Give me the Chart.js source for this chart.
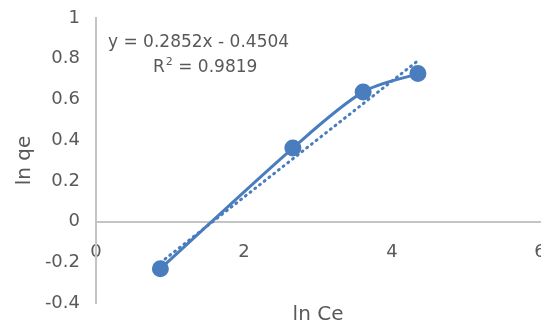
<!DOCTYPE html>
<html>
<head>
<meta charset="utf-8">
<script src="https://cdn.jsdelivr.net/npm/chart.js@4/dist/chart.umd.min.js"></script>
<style>
  html, body { margin: 0; padding: 0; background: #fff; }
  #wrap { width: 541px; height: 328px; }
</style>
</head>
<body>
<div id="wrap"><canvas id="chart"></canvas></div>
<script>
// data
const lnCe = [0.87, 2.66, 3.61, 4.35];
const lnQe = [-0.232, 0.361, 0.637, 0.727];
const trendX = [0.87, 4.35];
const trendY = [-0.202, 0.790];
const yTicks = [-0.4, -0.2, 0, 0.2, 0.4, 0.6, 0.8, 1];
const xTicks = [0, 2, 4, 6];
const equation = 'y = 0.2852x - 0.4504';
const rSquared = '0.9819';

const blue = '#4a7dbd';
const textColor = '#595959';
const axisColor = '#c4c4c4';
const font = "'DejaVu Sans', 'Open Sans', sans-serif";

const equationLabel = {
  id: 'equationLabel',
  afterDraw(chart) {
    const ctx = chart.ctx;
    const area = chart.chartArea;
    ctx.save();
    ctx.fillStyle = textColor;
    ctx.font = '17px ' + font;
    ctx.textBaseline = 'middle';
    ctx.textAlign = 'left';
    ctx.fillText(equation, area.left + 12, area.top + 25);
    let x = area.left + 57;
    ctx.fillText('R', x, area.top + 50);
    x += ctx.measureText('R').width + 1;
    ctx.font = '11px ' + font;
    ctx.fillText('2', x, area.top + 44);
    x += ctx.measureText('2').width;
    ctx.font = '17px ' + font;
    ctx.fillText(' = ' + rSquared, x, area.top + 50);
    ctx.restore();
  }
};

new Chart(document.getElementById('chart'), {
  type: 'scatter',
  data: {
    datasets: [
      {
        label: 'ln qe',
        data: lnCe.map((x, i) => ({ x: x, y: lnQe[i] })),
        showLine: true,
        tension: 0.3,
        borderColor: blue,
        backgroundColor: blue,
        borderWidth: 3,
        pointRadius: 7,
        pointHoverRadius: 7,
        order: 1
      },
      {
        label: 'Linear',
        data: trendX.map((x, i) => ({ x: x, y: trendY[i] })),
        showLine: true,
        borderColor: blue,
        borderWidth: 3,
        borderDash: [1, 5],
        borderCapStyle: 'round',
        pointRadius: 0,
        order: 2
      }
    ]
  },
  options: {
    responsive: true,
    maintainAspectRatio: false,
    animation: false,
    clip: false,
    layout: { autoPadding: false, padding: { top: 18, right: 1, left: 0, bottom: 0 } },
    plugins: {
      legend: { display: false },
      tooltip: { enabled: false }
    },
    scales: {
      x: {
        type: 'linear',
        position: { y: 0 },
        min: xTicks[0],
        max: xTicks[xTicks.length - 1],
        afterBuildTicks: s => { s.ticks = xTicks.map(v => ({ value: v })); },
        afterFit: s => { s.paddingLeft = 0; s.paddingRight = 0; },
        grid: { display: false, drawTicks: false },
        border: { display: true, color: axisColor, width: 2 },
        ticks: {
          color: textColor,
          font: { family: font, size: 18 },
          padding: 20,
          callback: v => String(v)
        }
      },
      xTitle: {
        type: 'linear',
        axis: 'x',
        position: 'bottom',
        min: 0,
        max: 6,
        afterFit: s => { s.paddingLeft = 0; s.paddingRight = 0; },
        grid: { display: false, drawTicks: false },
        border: { display: false },
        ticks: { display: false },
        title: {
          display: true,
          text: 'ln Ce',
          color: textColor,
          font: { family: font, size: 20 },
          padding: { top: 0, bottom: 1 }
        }
      },
      y: {
        type: 'linear',
        min: yTicks[0],
        max: yTicks[yTicks.length - 1],
        afterBuildTicks: s => { s.ticks = yTicks.map(v => ({ value: v })); },
        afterFit: s => { s.width = 96; s.paddingTop = 0; s.paddingBottom = 0; },
        grid: { display: false, drawTicks: false },
        border: { display: true, color: axisColor, width: 2 },
        ticks: {
          color: textColor,
          font: { family: font, size: 18 },
          padding: 16,
          callback: v => String(+v.toFixed(1))
        },
        title: {
          display: true,
          text: 'ln qe',
          color: textColor,
          font: { family: font, size: 20 },
          padding: { top: 13, bottom: 0 }
        }
      }
    }
  },
  plugins: [equationLabel]
});
</script>
</body>
</html>
